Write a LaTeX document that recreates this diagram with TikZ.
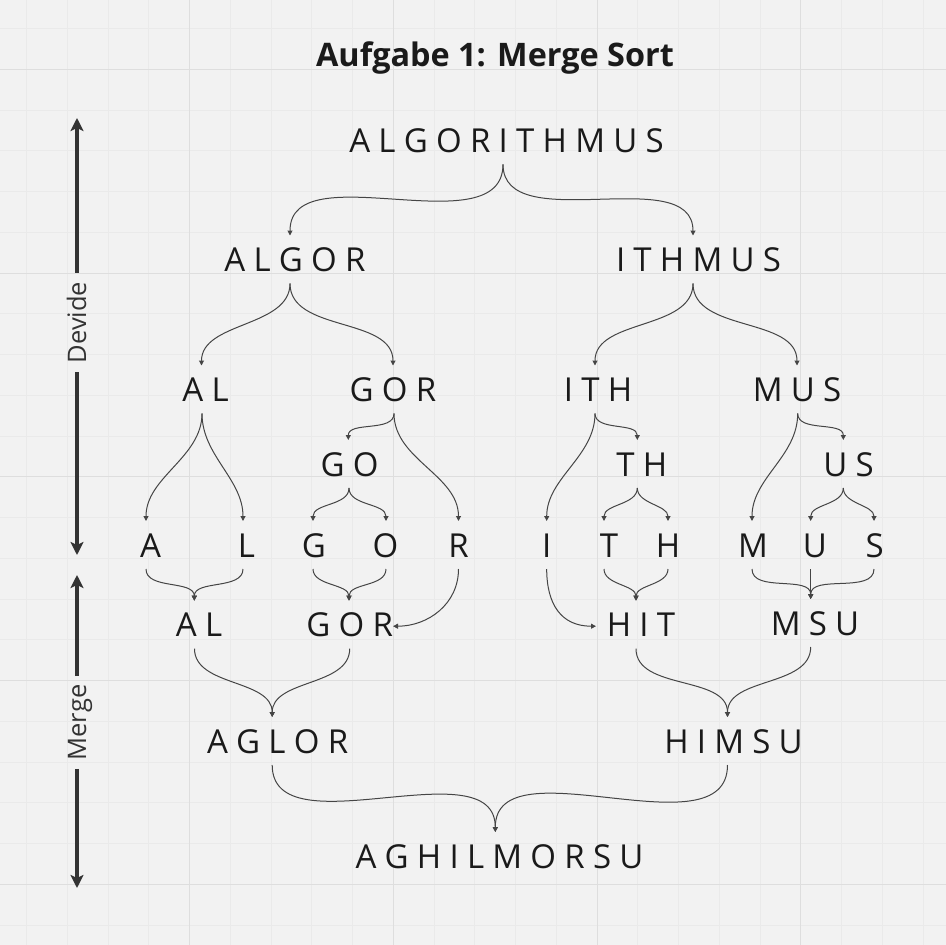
\documentclass[tikz,border=0pt]{standalone}
\usepackage{fontspec}
\setmainfont{Open Sans}
\usetikzlibrary{arrows.meta,calc}
\definecolor{bg}{HTML}{F2F2F2}
\definecolor{gridminor}{HTML}{EAEAEA}
\definecolor{gridmajor}{HTML}{DEDEDE}
\definecolor{ink}{HTML}{1A1A1A}
\definecolor{conncol}{HTML}{454545}
\definecolor{sidecol}{HTML}{333333}
\newlength\lsgap
\makeatletter
\def\spaced#1{\spaced@aux#1\relax}
\def\spaced@aux#1#2{#1\ifx#2\relax\else\kern\lsgap\expandafter\spaced@aux\expandafter#2\fi}
\makeatother
\newcommand\sw[1]{\lsgap=0.25em\relax\spaced{#1}}
\newcommand\joinc[3]{\draw[link] (#1) .. controls +(0pt,-#3) and +(0pt,#3) .. (#2);}
\tikzset{
  word/.style={font=\fontsize{33}{40}\selectfont, text=ink, inner sep=0pt, outer xsep=0pt, outer ysep=12pt, text height=24pt, text depth=0pt, anchor=base},
  link/.style={draw=conncol, line width=1pt, -{Triangle[length=5pt,width=5pt]}},
  bigarrow/.style={draw=sidecol, line width=3.2pt, -{Stealth[length=13pt,width=13pt,inset=3pt]}},
  sidelabel/.style={font=\fontsize{25.5}{30}\selectfont, text=sidecol, rotate=90, inner xsep=9pt, inner ysep=0pt, text height=18pt, text depth=0pt}
}
\begin{document}
\begin{tikzpicture}[x=1pt,y=-1pt]
\path[use as bounding box, fill=bg] (0,0) rectangle (946,945);
% grid
\foreach \i in {-4,...,18} \draw[gridminor, line width=1pt] ({189.7+\i*40.75},0) -- ({189.7+\i*40.75},945);
\foreach \i in {-1,...,21} \draw[gridminor, line width=1pt] (0,{69.3+\i*40.75}) -- (946,{69.3+\i*40.75});
\foreach \i in {0,...,3} \draw[gridmajor, line width=1pt] ({189.7+\i*203.75},0) -- ({189.7+\i*203.75},945);
\foreach \i in {0,...,4} \draw[gridmajor, line width=1pt] (0,{69.3+\i*203.75}) -- (946,{69.3+\i*203.75});

% title
\node[font=\fontsize{32.4}{40}\selectfont\bfseries, text=ink, anchor=base, inner sep=0pt] (title) at (495,66) {Aufgabe 1: Merge Sort};

% side arrows
\node[sidelabel] (dev) at (77,322.5) {Devide};
\node[sidelabel, inner xsep=8.3pt] (mer) at (77,722.5) {Merge};
\coordinate (dtop) at (77,118);
\coordinate (dbot) at (77,555);
\coordinate (mtop) at (77,575);
\coordinate (mbot) at (77,888);
\draw[bigarrow] (dev.east) -- (dtop);
\draw[bigarrow] (dev.west) -- (dbot);
\draw[bigarrow] (mer.east) -- (mtop);
\draw[bigarrow] (mer.west) -- (mbot);

% divide words
\node[word] (n0) at (506.5,152.3) {\sw{ALGORITHMUS}};
\node[word] (n1) at (295,271.5) {\sw{ALGOR}};
\node[word] (n2) at (698.5,271.5) {\sw{ITHMUS}};
\node[word] (n3) at (205.5,401.5) {\sw{AL}};
\node[word] (n4) at (393,401.5) {\sw{GOR}};
\node[word] (n5) at (598,401.5) {\sw{ITH}};
\node[word] (n6) at (797,401.5) {\sw{MUS}};
\node[word] (n7) at (349.7,476) {\sw{GO}};
\node[word] (n8) at (641.7,476) {\sw{TH}};
\node[word] (n9) at (848.5,476) {\sw{US}};
% single letters
\node[word] (sA) at (150.5,557) {A};
\node[word] (sL) at (246.5,557) {L};
\node[word] (sG) at (314,557) {G};
\node[word] (sO) at (385.5,557) {O};
\node[word] (sR) at (458.5,557) {R};
\node[word] (sI) at (546.7,557) {I};
\node[word] (sT) at (609,557) {T};
\node[word] (sH) at (668,557) {H};
\node[word] (sM) at (753,557) {M};
\node[word] (sU) at (815,557) {U};
\node[word] (sS) at (874.7,557) {S};
% merge words
\node[word] (mAL) at (199,636.7) {\sw{AL}};
\node[word] (mGOR) at (349.7,636.7) {\sw{GOR}};
\node[word] (mHIT) at (641,636.7) {\sw{HIT}};
\node[word] (mMSU) at (815,635) {\sw{MSU}};
\node[word] (mAGLOR) at (277.6,753) {\sw{AGLOR}};
\node[word] (mHIMSU) at (733.5,753) {\sw{HIMSU}};
\node[word] (fin) at (499.5,868) {\sw{AGHILMORSU}};

% divide connectors
\joinc{[xshift=-3.5pt]n0.south}{[xshift=-5pt]n1.north}{83pt}
\joinc{[xshift=-3.5pt]n0.south}{[xshift=-5.5pt]n2.north}{74pt}
\joinc{[xshift=-5pt]n1.south}{[xshift=-4pt]n3.north}{44pt}
\joinc{[xshift=-5pt]n1.south}{[xshift=0pt]n4.north}{49pt}
\joinc{[xshift=-5.5pt]n2.south}{[xshift=-3pt]n5.north}{47pt}
\joinc{[xshift=-5.5pt]n2.south}{[xshift=0pt]n6.north}{49pt}
\joinc{[xshift=-3.5pt]n3.south}{[xshift=-4.5pt]sA.north}{44pt}
\joinc{[xshift=-3.5pt]n3.south}{[xshift=-3.5pt]sL.north}{42pt}
\joinc{[xshift=1pt]n4.south}{[xshift=-1.4pt]n7.north}{19pt}
\joinc{[xshift=1pt]n4.south}{[xshift=0pt]sR.north}{46pt}
\joinc{[xshift=-0.7pt]n7.south}{[xshift=-1pt]sG.north}{18pt}
\joinc{[xshift=-0.7pt]n7.south}{[xshift=0.5pt]sO.north}{18pt}
\joinc{[xshift=-3pt]n5.south}{[xshift=0pt]sI.north}{43pt}
\joinc{[xshift=-3pt]n5.south}{[xshift=-4.4pt]n8.north}{18pt}
\joinc{[xshift=-4.4pt]n8.south}{[xshift=-5pt]sT.north}{17pt}
\joinc{[xshift=-4.4pt]n8.south}{[xshift=0pt]sH.north}{16pt}
\joinc{[xshift=0.7pt]n6.south}{[xshift=-1pt]sM.north}{43pt}
\joinc{[xshift=0.7pt]n6.south}{[xshift=-5.2pt]n9.north}{19pt}
\joinc{[xshift=-5.2pt]n9.south}{[xshift=-4.3pt]sU.north}{17pt}
\joinc{[xshift=-5.2pt]n9.south}{[xshift=-0.7pt]sS.north}{16pt}

% merge connectors
\joinc{[xshift=-4.5pt]sA.south}{[xshift=-4.7pt]mAL.north}{21pt}
\joinc{[xshift=-3.5pt]sL.south}{[xshift=-4.7pt]mAL.north}{21pt}
\joinc{[xshift=-1pt]sG.south}{[xshift=-0.7pt]mGOR.north}{17pt}
\joinc{[xshift=0.5pt]sO.south}{[xshift=-0.7pt]mGOR.north}{18pt}
\draw[link] (sR.south) .. controls +(0pt,-35pt) and +(35pt,0pt) .. ([xshift=43.3pt,yshift=10.5pt]mGOR.base);
\draw[link] (sI.south) .. controls +(0pt,-35pt) and +(-35pt,0pt) .. ([xshift=-45pt,yshift=10.5pt]mHIT.base);
\joinc{[xshift=-5pt]sT.south}{[xshift=-5pt]mHIT.north}{16pt}
\joinc{[xshift=0pt]sH.south}{[xshift=-5pt]mHIT.north}{16pt}
\joinc{[xshift=-1pt]sM.south}{[xshift=-4.3pt]mMSU.north}{24pt}
\draw[link] ([xshift=-4.3pt]sU.south) -- ([xshift=-4.3pt]mMSU.north);
\joinc{[xshift=-0.7pt]sS.south}{[xshift=-4.3pt]mMSU.north}{25pt}
\joinc{[xshift=-4.5pt]mAL.south}{[xshift=-5.4pt]mAGLOR.north}{38pt}
\joinc{[xshift=0pt]mGOR.south}{[xshift=-5.4pt]mAGLOR.north}{38pt}
\joinc{[xshift=-5pt]mHIT.south}{[xshift=-6pt]mHIMSU.north}{42pt}
\joinc{[xshift=-4.3pt]mMSU.south}{[xshift=-6pt]mHIMSU.north}{40pt}
\joinc{[xshift=-5.4pt]mAGLOR.south}{[xshift=-4.2pt]fin.north}{86pt}
\joinc{[xshift=-6pt]mHIMSU.south}{[xshift=-4.2pt]fin.north}{90pt}
\end{tikzpicture}
\end{document}
